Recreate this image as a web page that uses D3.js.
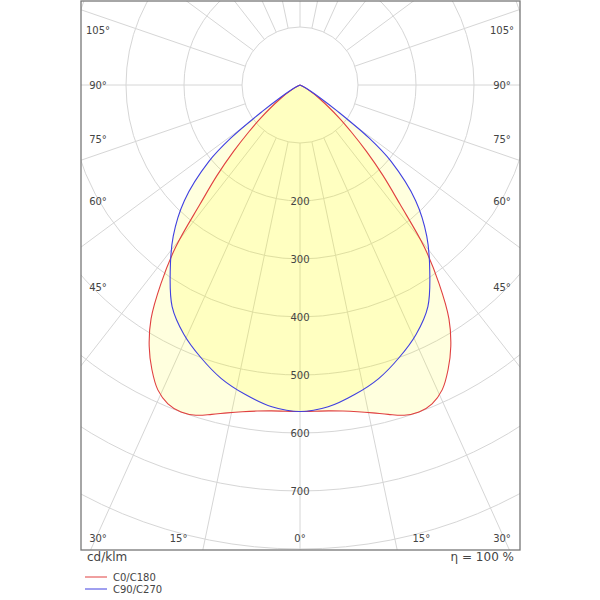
<!DOCTYPE html>
<html>
<head>
<meta charset="utf-8">
<script src="https://cdn.jsdelivr.net/npm/d3@7"></script>
<style>
  body { margin: 0; background: #fff; }
  text { font-family: "DejaVu Sans", Verdana, sans-serif; fill: #444; }
</style>
</head>
<body>
<div id="chart"></div>
<script>
// light distribution, cd/klm, gamma 0 = straight down
var gammaC0 = [0, 2.5, 5, 7.5, 10, 12.5, 15, 17.5, 20, 22.5, 25, 27.5, 30, 32.5, 35, 37.5, 40, 42.5, 45, 47.5, 50, 55, 60, 65, 70, 75, 90, 180];
var valuesC0 = [563, 563, 564, 567, 572, 579, 588, 597, 600, 595, 580, 553, 520, 478, 418, 352, 268, 212, 162, 120, 88, 42, 16, 5, 1, 0, 0, 0];

var gammaC90 = [0, 5, 10, 15, 20, 25, 30, 35, 40, 45, 50, 52.5, 55, 57.5, 60, 65, 70, 75, 90, 180];
var valuesC90 = [563, 557, 542, 524, 500, 474, 441, 390, 340, 282, 205, 150, 80, 40, 20, 6, 2, 0, 0, 0];

var ringValues = [100, 200, 300, 400, 500, 600, 700, 800, 900, 1000, 1100];
var ringLabels = [200, 300, 400, 500, 600, 700];
var sideAngleLabels = [45, 60, 75, 90, 105];
var bottomAngleLabels = [0, 15, 30];
var gridStep = 15;

var series = [
  {name: "C0/C180", gamma: gammaC0, values: valuesC0, color: "#e04040"},
  {name: "C90/C270", gamma: gammaC90, values: valuesC90, color: "#4040e0"}
];

var W = 600, H = 600;
var fx0 = 81, fy0 = 1, fx1 = 520, fy1 = 550;
var cx = 300, cy = 85;
var rad = d3.scaleLinear().domain([0, 100]).range([0, 58]);
// spokes follow the frame's aspect, not a true circle
var spokeSquash = 0.78;

var svg = d3.select("#chart").append("svg")
    .attr("width", W)
    .attr("height", H);

svg.append("defs").append("clipPath").attr("id", "frameClip")
  .append("rect")
    .attr("x", fx0).attr("y", fy0)
    .attr("width", fx1 - fx0).attr("height", fy1 - fy0);

var plot = svg.append("g").attr("clip-path", "url(#frameClip)");
var polar = plot.append("g").attr("transform", "translate(" + cx + "," + cy + ")");

// rings
polar.selectAll("circle.ring")
    .data(ringValues)
    .enter().append("circle")
    .attr("class", "ring")
    .attr("r", function(d) { return rad(d); })
    .style("fill", "none")
    .style("stroke", "#d6d6d6")
    .style("stroke-width", 1);

// spokes
function spokeDir(d) {
  var a = d * Math.PI / 180;
  var vx = spokeSquash * Math.sin(a), vy = Math.cos(a);
  var n = Math.sqrt(vx * vx + vy * vy);
  return [vx / n, vy / n];
}
var spokes = d3.range(0, 360, gridStep);
polar.selectAll("line.spoke")
    .data(spokes)
    .enter().append("line")
    .attr("class", "spoke")
    .attr("x1", function(d) { return rad(100) * spokeDir(d)[0]; })
    .attr("y1", function(d) { return rad(100) * spokeDir(d)[1]; })
    .attr("x2", function(d) { return rad(1400) * spokeDir(d)[0]; })
    .attr("y2", function(d) { return rad(1400) * spokeDir(d)[1]; })
    .style("stroke", "#d6d6d6")
    .style("stroke-width", 1);

// curve points: right half 180 -> 0, then left half 0 -> 180
function curvePoints(s) {
  var pts = [];
  for (var i = s.gamma.length - 1; i >= 0; i--) {
    pts.push([Math.PI - s.gamma[i] * Math.PI / 180, rad(s.values[i])]);
  }
  for (var j = 1; j < s.gamma.length - 1; j++) {
    pts.push([Math.PI + s.gamma[j] * Math.PI / 180, rad(s.values[j])]);
  }
  return pts;
}

var radial = d3.lineRadial()
    .angle(function(d) { return d[0]; })
    .radius(function(d) { return d[1]; })
    .curve(d3.curveCatmullRomClosed.alpha(0.5));

polar.selectAll("path.fill")
    .data(series)
    .enter().append("path")
    .attr("class", "fill")
    .attr("d", function(d) { return radial(curvePoints(d)); })
    .style("fill", "#ffff00")
    .style("fill-opacity", 0.13)
    .style("stroke", "none");

polar.selectAll("path.curve")
    .data(series)
    .enter().append("path")
    .attr("class", "curve")
    .attr("d", function(d) { return radial(curvePoints(d)); })
    .style("fill", "none")
    .style("stroke", function(d) { return d.color; })
    .style("stroke-width", 1.1);

// ring labels
polar.selectAll("text.rl")
    .data(ringLabels)
    .enter().append("text")
    .attr("class", "rl")
    .attr("x", 0)
    .attr("y", function(d) { return rad(d); })
    .attr("dy", "0.35em")
    .attr("text-anchor", "middle")
    .style("font-size", "10px")
    .text(function(d) { return d; });

// frame
svg.append("rect")
    .attr("x", fx0).attr("y", fy0)
    .attr("width", fx1 - fx0).attr("height", fy1 - fy0)
    .style("fill", "none")
    .style("stroke", "#777")
    .style("stroke-width", 1.3);

// angle labels
var lxL = 98, lxR = 502, lyB = 538;
var angleLabels = [];
sideAngleLabels.forEach(function(a) {
  var y = cy + (cx - lxL) / Math.tan(a * Math.PI / 180);
  angleLabels.push({x: lxL, y: y, t: a + "°"});
  angleLabels.push({x: lxR, y: y, t: a + "°"});
});
bottomAngleLabels.forEach(function(a) {
  var dx = (lyB - cy) * Math.tan(a * Math.PI / 180);
  angleLabels.push({x: Math.max(lxL, cx - dx), y: lyB, t: a + "°"});
  if (a > 0) angleLabels.push({x: Math.min(lxR, cx + dx), y: lyB, t: a + "°"});
});
svg.selectAll("text.al")
    .data(angleLabels)
    .enter().append("text")
    .attr("class", "al")
    .attr("x", function(d) { return d.x; })
    .attr("y", function(d) { return d.y; })
    .attr("dy", "0.35em")
    .attr("text-anchor", "middle")
    .style("font-size", "10px")
    .text(function(d) { return d.t; });

// unit and efficiency
svg.append("text")
    .attr("x", 87).attr("y", 561)
    .style("font-size", "12px")
    .text("cd/klm");
svg.append("text")
    .attr("x", 514).attr("y", 561)
    .attr("text-anchor", "end")
    .style("font-size", "12px")
    .text("η = 100 %");

// legend
var legend = svg.selectAll("g.leg")
    .data(series)
    .enter().append("g")
    .attr("class", "leg")
    .attr("transform", function(d, i) { return "translate(85," + (577 + i * 12) + ")"; });
legend.append("line")
    .attr("x1", 0).attr("x2", 22)
    .style("stroke", function(d) { return d.color; })
    .style("stroke-width", 1);
legend.append("text")
    .attr("x", 28)
    .attr("dy", "0.35em")
    .style("font-size", "10px")
    .text(function(d) { return d.name; });
</script>
</body>
</html>
